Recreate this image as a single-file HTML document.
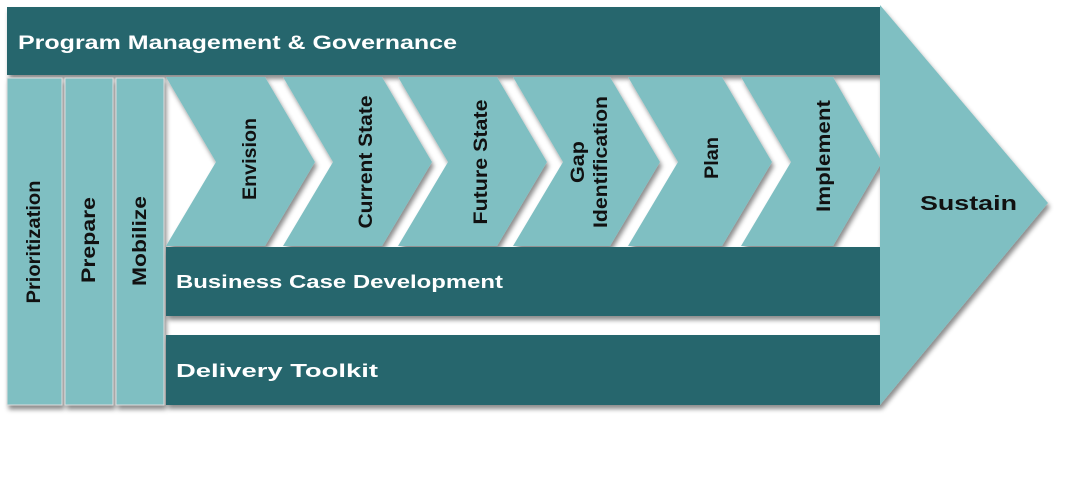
<!DOCTYPE html>
<html><head><style>
html,body{margin:0;padding:0;background:#fff;width:1084px;height:482px;overflow:hidden}
svg text{font-family:"Liberation Sans",sans-serif;font-weight:bold}
</style></head><body>
<svg width="1084" height="482" viewBox="0 0 1084 482" xmlns="http://www.w3.org/2000/svg">
<defs>
<filter id="sh" x="-5%" y="-5%" width="115%" height="125%"><feDropShadow dx="2" dy="4" stdDeviation="2.5" flood-color="#000" flood-opacity="0.45"/></filter>
</defs>
<g filter="url(#sh)">
<rect x="7" y="7" width="873" height="68" fill="#26666d"/>
<rect x="7" y="78" width="55" height="327" fill="#7fbfc2" stroke="#ddd" stroke-width="1"/>
<rect x="65" y="78" width="48" height="327" fill="#7fbfc2" stroke="#ddd" stroke-width="1"/>
<rect x="116" y="78" width="48" height="327" fill="#7fbfc2" stroke="#ddd" stroke-width="1"/>
<rect x="166" y="247" width="714" height="69" fill="#26666d"/>
<rect x="166" y="335" width="714" height="70" fill="#26666d"/>
<polygon points="166,77 265,77 315,162 265,246 166,246 216,162" fill="#7fbfc2"/>
<polygon points="283,77 382,77 432,162 382,246 283,246 333,162" fill="#7fbfc2"/>
<polygon points="398,77 497,77 547,162 497,246 398,246 448,162" fill="#7fbfc2"/>
<polygon points="513,77 610,77 660,162 610,246 513,246 563,162" fill="#7fbfc2"/>
<polygon points="628,77 722,77 772,162 722,246 628,246 678,162" fill="#7fbfc2"/>
<polygon points="741,77 833,77 882,162 833,246 741,246 791,162" fill="#7fbfc2"/>
<polygon points="880,5 1048,203 880,405" fill="#7fbfc2"/>
</g>
<text x="18" y="49" fill="#fff" font-size="19" textLength="439" lengthAdjust="spacingAndGlyphs">Program Management &amp; Governance</text>
<text x="176" y="288" fill="#fff" font-size="18" textLength="327" lengthAdjust="spacingAndGlyphs">Business Case Development</text>
<text x="176" y="377" fill="#fff" font-size="18" textLength="202" lengthAdjust="spacingAndGlyphs">Delivery Toolkit</text>
<text x="920" y="210" fill="#111" font-size="20" textLength="97" lengthAdjust="spacingAndGlyphs">Sustain</text>
<g fill="#111" font-size="19" text-anchor="middle" lengthAdjust="spacingAndGlyphs">
<text transform="translate(40,242) rotate(-90)" textLength="123" lengthAdjust="spacingAndGlyphs">Prioritization</text>
<text transform="translate(95,240) rotate(-90)" textLength="86" lengthAdjust="spacingAndGlyphs">Prepare</text>
<text transform="translate(146,241) rotate(-90)" textLength="90" lengthAdjust="spacingAndGlyphs">Mobilize</text>
<text transform="translate(256,159) rotate(-90)" textLength="82" lengthAdjust="spacingAndGlyphs">Envision</text>
<text transform="translate(372,162) rotate(-90)" textLength="133" lengthAdjust="spacingAndGlyphs">Current State</text>
<text transform="translate(487,162) rotate(-90)" textLength="125" lengthAdjust="spacingAndGlyphs">Future State</text>
<text transform="translate(584,162) rotate(-90)" textLength="42" lengthAdjust="spacingAndGlyphs">Gap</text>
<text transform="translate(607,162) rotate(-90)" textLength="132" lengthAdjust="spacingAndGlyphs">Identification</text>
<text transform="translate(718,158) rotate(-90)" textLength="42" lengthAdjust="spacingAndGlyphs">Plan</text>
<text transform="translate(830,156) rotate(-90)" textLength="112" lengthAdjust="spacingAndGlyphs">Implement</text>
</g>
</svg>
</body></html>
